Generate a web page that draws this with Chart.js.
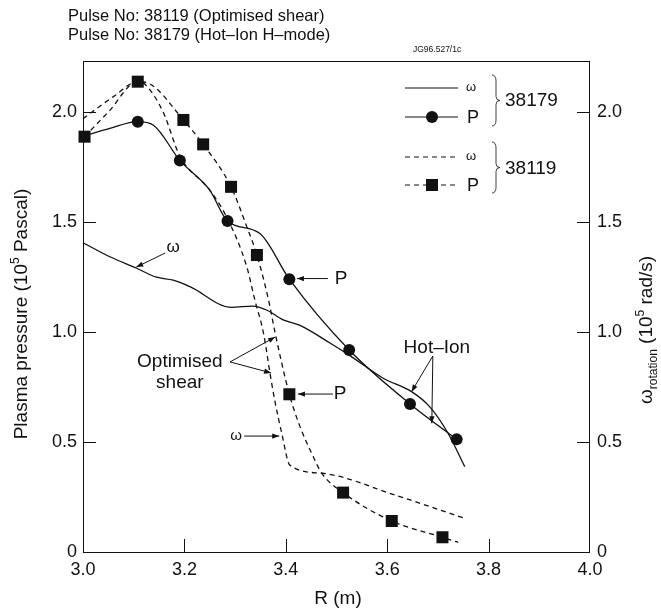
<!DOCTYPE html>
<html><head><meta charset="utf-8">
<script src="https://cdn.jsdelivr.net/npm/chart.js@4/dist/chart.umd.min.js"></script>
<style>html,body{margin:0;padding:0;background:#fff;}canvas{display:block;}</style>
</head><body>
<canvas id="c" width="661" height="611"></canvas>
<script>
// ---- data ----
const xTicks = [3.0, 3.2, 3.4, 3.6, 3.8, 4.0];
const yTicks = [0, 0.5, 1.0, 1.5, 2.0];

// Pulse 38179 (Hot-Ion H-mode), solid lines
const omegaR_38179 = [3.0, 3.053, 3.106, 3.145, 3.178, 3.211, 3.293, 3.335, 3.362, 3.395, 3.428, 3.487, 3.525, 3.592, 3.648, 3.684, 3.72, 3.753];
const omega_38179  = [1.406, 1.342, 1.29, 1.249, 1.236, 1.206, 1.112, 1.118, 1.10, 1.055, 1.03, 0.95, 0.895, 0.79, 0.729, 0.66, 0.54, 0.388];
const pLineR_38179 = [3.0, 3.053, 3.108, 3.139, 3.191, 3.25, 3.285, 3.349, 3.407, 3.525, 3.645, 3.737];
const pLine_38179  = [1.89, 1.926, 1.956, 1.94, 1.78, 1.645, 1.505, 1.448, 1.24, 0.918, 0.673, 0.512];
const pMarkR_38179 = [3.108, 3.191, 3.285, 3.407, 3.525, 3.645, 3.737];
const pMark_38179  = [1.956, 1.78, 1.505, 1.24, 0.918, 0.673, 0.512];

// Pulse 38119 (Optimised shear), dashed lines
const omegaR_38119 = [3.0, 3.06, 3.11, 3.125, 3.158, 3.191, 3.25, 3.283, 3.323, 3.339, 3.356, 3.369, 3.379, 3.392, 3.408, 3.471, 3.619, 3.753];
const omega_38119  = [1.97, 2.07, 2.14, 2.12, 2.0, 1.80, 1.645, 1.524, 1.297, 1.145, 0.995, 0.81, 0.68, 0.54, 0.395, 0.358, 0.256, 0.153];
const pLineR_38119 = [3.003, 3.05, 3.108, 3.13, 3.198, 3.237, 3.292, 3.323, 3.343, 3.366, 3.379, 3.407, 3.428, 3.451, 3.471, 3.513, 3.609, 3.709, 3.74];
const pLine_38119  = [1.888, 2.0, 2.138, 2.13, 1.964, 1.853, 1.66, 1.479, 1.35, 1.145, 0.995, 0.717, 0.57, 0.449, 0.358, 0.27, 0.141, 0.067, 0.044];
const pMarkR_38119 = [3.003, 3.108, 3.198, 3.237, 3.292, 3.343, 3.407, 3.513, 3.609, 3.709];
const pMark_38119  = [1.888, 2.138, 1.964, 1.853, 1.66, 1.35, 0.717, 0.27, 0.141, 0.067];

const titleLines = ['Pulse No: 38119 (Optimised shear)', 'Pulse No: 38179 (Hot\u2013Ion H\u2013mode)'];

// ---- helpers ----
const INK = '#111';
const FONT = '"Liberation Sans", Arial, Helvetica, sans-serif';
const pts = (xs, ys) => xs.map((x, i) => ({x, y: ys[i]}));
const DASH = [5, 4];

function lineSet(xs, ys, dashed) {
  return { data: pts(xs, ys), showLine: true, borderColor: INK, borderWidth: 1.3,
    borderDash: dashed ? DASH : [], pointRadius: 0, cubicInterpolationMode: 'monotone',
    clip: false, yAxisID: 'y', order: 2 };
}
function markSet(xs, ys, style, r) {
  return { data: pts(xs, ys), showLine: false, pointStyle: style, pointRadius: r,
    backgroundColor: INK, borderColor: INK, borderWidth: 0, clip: false, yAxisID: 'y', order: 1 };
}

function arrow(ctx, x1, y1, x2, y2) {
  ctx.beginPath(); ctx.moveTo(x1, y1); ctx.lineTo(x2, y2); ctx.stroke();
  const a = Math.atan2(y2 - y1, x2 - x1), L = 7, W = 2.6;
  ctx.beginPath();
  ctx.moveTo(x2, y2);
  ctx.lineTo(x2 - L * Math.cos(a) + W * Math.sin(a), y2 - L * Math.sin(a) - W * Math.cos(a));
  ctx.lineTo(x2 - L * Math.cos(a) - W * Math.sin(a), y2 - L * Math.sin(a) + W * Math.cos(a));
  ctx.closePath(); ctx.fill();
}
function brace(ctx, x, y1, y2) {
  const m = (y1 + y2) / 2;
  ctx.beginPath();
  ctx.moveTo(x, y1);
  ctx.quadraticCurveTo(x + 4, y1, x + 4, y1 + 6);
  ctx.lineTo(x + 4, m - 4);
  ctx.quadraticCurveTo(x + 4, m, x + 8, m);
  ctx.quadraticCurveTo(x + 4, m, x + 4, m + 4);
  ctx.lineTo(x + 4, y2 - 6);
  ctx.quadraticCurveTo(x + 4, y2, x, y2);
  ctx.stroke();
}
// draw mixed-size text runs; parts: [text, size, dy]
function runs(ctx, parts, x, y, align) {
  let total = 0;
  parts.forEach(p => { ctx.font = p[1] + 'px ' + FONT; total += ctx.measureText(p[0]).width; });
  let cx = align === 'center' ? x - total / 2 : x;
  ctx.textAlign = 'left';
  parts.forEach(p => { ctx.font = p[1] + 'px ' + FONT; ctx.fillText(p[0], cx, y + p[2]); cx += ctx.measureText(p[0]).width; });
}

const decor = {
  id: 'decor',
  afterDraw(chart) {
    const ctx = chart.ctx, a = chart.chartArea, sx = chart.scales.x, sy = chart.scales.y;
    const X = v => sx.getPixelForValue(v), Y = v => sy.getPixelForValue(v);
    ctx.save();
    ctx.strokeStyle = INK; ctx.fillStyle = INK; ctx.lineWidth = 1;
    // frame
    ctx.strokeRect(a.left + 0.5, a.top + 0.5, a.right - a.left - 1, a.bottom - a.top);
    // inward ticks
    ctx.beginPath();
    yTicks.forEach(v => { if (v > 0) { const py = Math.round(Y(v)) + 0.5;
      ctx.moveTo(a.left, py); ctx.lineTo(a.left + 13, py);
      ctx.moveTo(a.right, py); ctx.lineTo(a.right - 13, py); } });
    xTicks.forEach(v => { if (v > 3.0 && v < 4.0) { const px = Math.round(X(v)) + 0.5;
      ctx.moveTo(px, a.bottom); ctx.lineTo(px, a.bottom - 13); } });
    ctx.stroke();

    // title
    ctx.textBaseline = 'alphabetic';
    ctx.font = '16.5px ' + FONT; ctx.textAlign = 'left';
    ctx.fillText(titleLines[0], 68, 21);
    ctx.fillText(titleLines[1], 68, 40);
    ctx.font = '8.5px ' + FONT;
    ctx.fillText('JG96.527/1c', 413, 52);

    // axis titles
    ctx.save(); ctx.translate(27, 314); ctx.rotate(-Math.PI / 2);
    runs(ctx, [['Plasma pressure (10', 19, 0], ['5', 12, -8], [' Pascal)', 19, 0]], 0, 0, 'center');
    ctx.restore();
    ctx.save(); ctx.translate(652, 330); ctx.rotate(-Math.PI / 2);
    runs(ctx, [['\u03c9', 19, 0], ['rotation', 12, 5], [' (10', 19, 0], ['5', 12, -8], [' rad/s)', 19, 0]], 0, 0, 'center');
    ctx.restore();
    ctx.font = '19px ' + FONT; ctx.textAlign = 'center';
    ctx.fillText('R (m)', 338, 604);

    // annotations
    ctx.lineWidth = 1;
    ctx.textBaseline = 'middle';
    ctx.font = '17px ' + FONT; ctx.textAlign = 'center';
    ctx.fillText('\u03c9', X(3.178), Y(1.386));
    arrow(ctx, X(3.162), Y(1.359), X(3.105), Y(1.295));
    ctx.font = '19px ' + FONT;
    ctx.fillText('P', X(3.509), Y(1.241));
    arrow(ctx, X(3.483), Y(1.243), X(3.422), Y(1.243));
    ctx.fillText('Optimised', X(3.191), Y(0.864));
    ctx.fillText('shear', X(3.191), Y(0.768));
    arrow(ctx, X(3.29), Y(0.864), X(3.379), Y(0.977));
    arrow(ctx, X(3.29), Y(0.864), X(3.371), Y(0.814));
    ctx.fillText('P', X(3.507), Y(0.718));
    arrow(ctx, X(3.493), Y(0.718), X(3.424), Y(0.718));
    ctx.font = '15px ' + FONT;
    ctx.fillText('\u03c9', X(3.302), Y(0.527));
    arrow(ctx, X(3.318), Y(0.527), X(3.387), Y(0.527));
    ctx.font = '19px ' + FONT;
    ctx.fillText('Hot\u2013Ion', X(3.698), Y(0.927));
    arrow(ctx, X(3.690), Y(0.891), X(3.648), Y(0.729));
    arrow(ctx, X(3.690), Y(0.891), X(3.688), Y(0.585));

    // legend
    ctx.lineWidth = 1.2;
    const lx1 = 405, lx2 = 458, mx = 432;
    ctx.beginPath(); ctx.moveTo(lx1, 88); ctx.lineTo(lx2, 88); ctx.stroke();
    ctx.beginPath(); ctx.moveTo(lx1, 117); ctx.lineTo(lx2, 117); ctx.stroke();
    ctx.beginPath(); ctx.arc(mx, 117, 6, 0, 2 * Math.PI); ctx.fill();
    ctx.setLineDash(DASH);
    ctx.beginPath(); ctx.moveTo(lx1, 157); ctx.lineTo(lx2, 157); ctx.stroke();
    ctx.beginPath(); ctx.moveTo(lx1, 185); ctx.lineTo(lx2, 185); ctx.stroke();
    ctx.setLineDash([]);
    ctx.fillRect(mx - 6, 185 - 6, 12, 12);
    ctx.textAlign = 'left';
    ctx.font = '13px ' + FONT;
    ctx.fillText('\u03c9', 466, 87);
    ctx.fillText('\u03c9', 466, 156);
    ctx.font = '18px ' + FONT;
    ctx.fillText('P', 467, 118);
    ctx.fillText('P', 467, 186);
    ctx.lineWidth = 0.8;
    brace(ctx, 492, 75, 126);
    brace(ctx, 492, 142, 193);
    ctx.font = '19px ' + FONT;
    ctx.fillText('38179', 505, 101);
    ctx.fillText('38119', 505, 169);
    ctx.restore();
  }
};

const tickFont = { family: FONT, size: 18 };
new Chart(document.getElementById('c'), {
  type: 'scatter',
  data: { datasets: [
    lineSet(omegaR_38179, omega_38179, false),
    lineSet(pLineR_38179, pLine_38179, false),
    lineSet(omegaR_38119, omega_38119, true),
    lineSet(pLineR_38119, pLine_38119, true),
    markSet(pMarkR_38179, pMark_38179, 'circle', 6),
    markSet(pMarkR_38119, pMark_38119, 'rect', 8.5)
  ]},
  options: {
    responsive: false, animation: false, devicePixelRatio: 1,
    layout: { padding: { top: 61, left: 0, right: 0, bottom: 0 } },
    plugins: { legend: { display: false }, tooltip: { enabled: false }, title: { display: false } },
    scales: {
      x: { type: 'linear', min: 3.0, max: 4.0,
        afterBuildTicks: s => { s.ticks = xTicks.map(v => ({ value: v })); },
        afterFit: s => { s.height = 59; },
        grid: { display: false, drawTicks: false }, border: { display: false },
        ticks: { font: tickFont, color: INK, padding: 7, maxRotation: 0,
          callback: v => Number(v).toFixed(1) } },
      y: { type: 'linear', position: 'left', min: 0, max: 2.232,
        afterBuildTicks: s => { s.ticks = yTicks.map(v => ({ value: v })); },
        afterFit: s => { s.width = 83; },
        grid: { display: false, drawTicks: false }, border: { display: false },
        ticks: { font: tickFont, color: INK, padding: 6,
          callback: v => v === 0 ? '0' : Number(v).toFixed(1) } },
      y2: { type: 'linear', position: 'right', min: 0, max: 2.232,
        afterBuildTicks: s => { s.ticks = yTicks.map(v => ({ value: v })); },
        afterFit: s => { s.width = 71; },
        grid: { display: false, drawTicks: false }, border: { display: false },
        ticks: { font: tickFont, color: INK, padding: 7,
          callback: v => v === 0 ? '0' : Number(v).toFixed(1) } }
    }
  },
  plugins: [decor]
});
</script>
</body></html>
